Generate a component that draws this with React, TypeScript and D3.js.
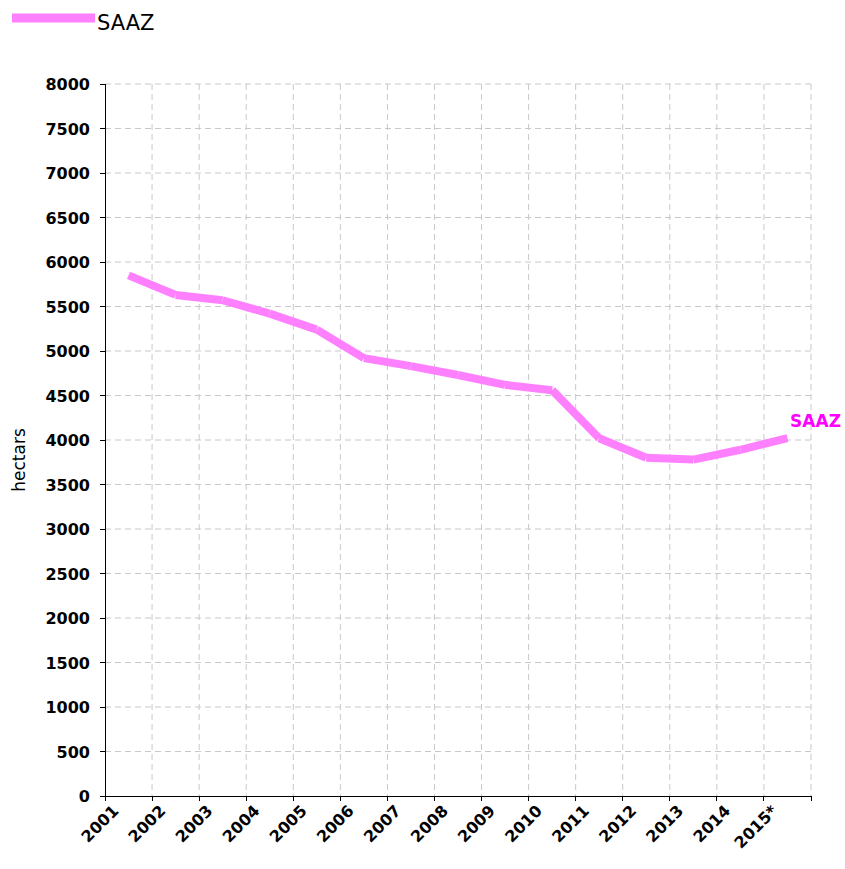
import React from 'react';
import * as d3 from 'd3';

const years = ['2001', '2002', '2003', '2004', '2005', '2006', '2007', '2008', '2009', '2010', '2011', '2012', '2013', '2014', '2015*'];
const saaz = [5850, 5630, 5570, 5420, 5240, 4920, 4830, 4730, 4620, 4560, 4020, 3800, 3780, 3890, 4020];
const yTicks = [0, 500, 1000, 1500, 2000, 2500, 3000, 3500, 4000, 4500, 5000, 5500, 6000, 6500, 7000, 7500, 8000];

const W = 845;
const H = 869;
const margin = { top: 84, right: 34, bottom: 73, left: 105 };
const LINE = '#ff80ff';
const FONT = 'DejaVu Sans, Verdana, sans-serif';

const App: React.FC = () => {
  const x = d3.scaleBand<string>()
    .domain(years)
    .range([margin.left, W - margin.right])
    .padding(0);
  const y = d3.scaleLinear()
    .domain([0, 8000])
    .range([H - margin.bottom, margin.top]);

  const cx = (i: number) => (x(years[i]) || 0) + x.bandwidth() / 2;
  const edges = years.map(d => x(d) || 0).concat([W - margin.right]);
  const y0 = y(0);

  // separate segments with butt caps, like the source rendering
  const segs = saaz.slice(1).map((v, i) => ({
    x1: cx(i), y1: y(saaz[i]), x2: cx(i + 1), y2: y(v),
  }));

  return (
    <svg width={W} height={H} style={{ position: 'absolute', left: 0, top: 0, background: '#fff' }}>
      {/* legend */}
      <line x1={12} x2={95} y1={18} y2={18} stroke={LINE} strokeWidth={9} />
      <text x={97} y={30} fontFamily={FONT} fontSize={21} fill="#000">SAAZ</text>

      {/* grid */}
      <g stroke="#c8c8c8" strokeWidth={1} strokeDasharray="6,4">
        {yTicks.filter(t => t > 0).map(t => (
          <line key={t} x1={margin.left} x2={W - margin.right} y1={y(t)} y2={y(t)} />
        ))}
        {edges.slice(1).map((e, i) => (
          <line key={i} x1={e} x2={e} y1={margin.top} y2={y0} />
        ))}
      </g>

      {/* axes */}
      <g stroke="#000" strokeWidth={1} shapeRendering="crispEdges">
        <line x1={margin.left} x2={margin.left} y1={margin.top} y2={y0} />
        <line x1={margin.left} x2={W - margin.right} y1={y0} y2={y0} />
        {yTicks.map(t => (
          <line key={t} x1={margin.left - 5} x2={margin.left} y1={y(t)} y2={y(t)} />
        ))}
        {edges.map((e, i) => (
          <line key={i} x1={e} x2={e} y1={y0} y2={y0 + 5} />
        ))}
      </g>

      {yTicks.map(t => (
        <text key={t} x={margin.left - 15} y={y(t) + 6} textAnchor="end"
          fontFamily={FONT} fontWeight="bold" fontSize={16} fill="#000">{t}</text>
      ))}

      {years.map((d, i) => (
        <text key={d} transform={`translate(${cx(i) - 9},${y0 + 16}) rotate(-45)`}
          textAnchor="end" fontFamily={FONT} fontWeight="bold" fontSize={16} fill="#000">{d}</text>
      ))}

      <text transform={`translate(25,${(margin.top + y0) / 2 + 20}) rotate(-90)`} textAnchor="middle"
        fontFamily={FONT} fontSize={17} fill="#000">hectars</text>

      {/* series */}
      <g stroke={LINE} strokeWidth={8} strokeLinecap="butt">
        {segs.map((s, i) => (
          <line key={i} x1={s.x1} y1={s.y1} x2={s.x2} y2={s.y2} />
        ))}
      </g>

      <text x={841} y={y(saaz[saaz.length - 1]) - 11} textAnchor="end"
        fontFamily={FONT} fontWeight="bold" fontSize={17} fill="#ff00ff">SAAZ</text>
    </svg>
  );
};

export default App;
